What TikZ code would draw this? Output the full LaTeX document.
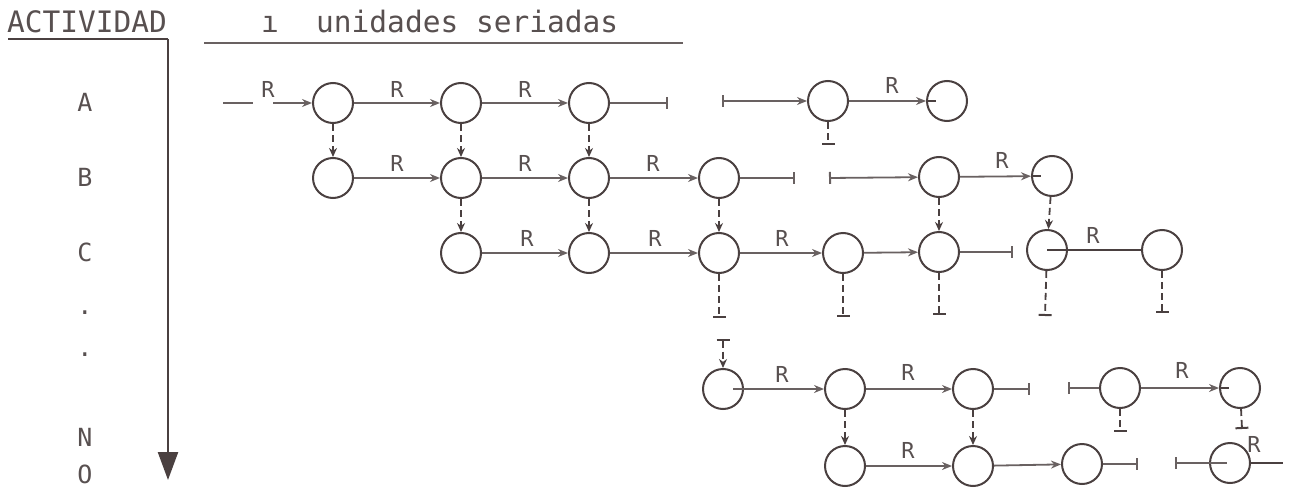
\documentclass[tikz,border=0pt]{standalone}
\usepackage{fontspec}
\setmonofont{DejaVu Sans Mono}
\usetikzlibrary{arrows.meta}
\definecolor{ink}{RGB}{74,64,64}
\definecolor{lnc}{RGB}{105,97,97}
\definecolor{txt}{RGB}{88,80,80}
\begin{document}
\begin{tikzpicture}[x=1pt,y=-1pt,
  st/.style={circle,draw=ink,line width=2pt,minimum size=40pt,inner sep=0pt},
  lnk/.style={draw=lnc,line width=1.8pt},
  arr/.style={lnk,-{Stealth[length=10pt,width=8pt]}},
  brk/.style={lnk,-{Bar[width=12pt,line width=2pt]}},
  brks/.style={lnk,{Bar[width=12pt,line width=2pt]}-},
  brka/.style={lnk,{Bar[width=12pt,line width=2pt]}-{Stealth[length=10pt,width=8pt]}},
  dsh/.style={draw=ink,line width=1.8pt,dash pattern=on 7pt off 4pt},
  darr/.style={dsh,-{Stealth[length=9pt,width=8pt]}},
  dend/.style={dsh,-{Bar[width=13pt,line width=2pt]}},
  dstart/.style={dsh,{Bar[width=13pt,line width=2pt]}-{Stealth[length=9pt,width=8pt]}},
  rl/.style={font=\ttfamily\fontsize{22}{22}\selectfont,text=txt,inner sep=0pt},
  lab/.style={font=\ttfamily\fontsize{25}{25}\selectfont,text=txt,inner sep=0pt},
  hdr/.style={font=\ttfamily\fontsize{29.5}{29.5}\selectfont,text=txt,inner sep=0pt},
  inl/.style={draw=ink,line width=1.8pt},
]
\useasboundingbox (0,0) rectangle (1289,492);

% ---- header ----
\node[hdr,anchor=base] (act) at (87,33) {ACTIVIDAD};
\node[hdr,anchor=base] (hi) at (270,33) {ı};
\node[hdr,anchor=base west] (hdrt) at (316,33) {unidades seriadas};
\coordinate (u1) at (8,39);
\coordinate (u2) at (168,39);
\coordinate (u3) at (204,43);
\coordinate (u4) at (683,43);
\draw[ink,line width=1.8pt] (u1) -- (u2);
\draw[lnc,line width=1.8pt] (u3) -- (u4);

% ---- axis ----
\coordinate (axT) at (168,39);
\coordinate (axB) at (168,480);
\draw[ink,line width=2.4pt,-{Triangle[length=28pt,width=20pt]}] (axT) -- (axB);

% ---- activity labels ----
\node[lab] (lA) at (85,102) {A};
\node[lab] (lB) at (85,177) {B};
\node[lab] (lC) at (85,252) {C};
\node[lab,anchor=base] (ld1) at (85,314) {.};
\node[lab,anchor=base] (ld2) at (85,356) {.};
\node[lab] (lN) at (85,437) {N};
\node[lab] (lO) at (85,474) {O};

% ---- states ----
\node[st] (A1) at (333,103) {};
\node[st] (A2) at (461,103) {};
\node[st] (A3) at (589,103) {};
\node[st] (A4) at (828,101) {};
\node[st] (A5) at (947,101) {};

\node[st] (B1) at (333,178) {};
\node[st] (B2) at (461,178) {};
\node[st] (B3) at (589,178) {};
\node[st] (B4) at (719,178) {};
\node[st] (B5) at (939,177) {};
\node[st] (B6) at (1052,176) {};

\node[st] (C1) at (461,253) {};
\node[st] (C2) at (589,253) {};
\node[st] (C3) at (719,253) {};
\node[st] (C4) at (843,253) {};
\node[st] (C5) at (939,252) {};
\node[st] (C6) at (1047,250) {};
\node[st] (C7) at (1162,250) {};

\node[st] (D1) at (723,389) {};
\node[st] (D2) at (845,389) {};
\node[st] (D3) at (973,389) {};
\node[st] (D4) at (1120,388) {};
\node[st] (D5) at (1240,388) {};

\node[st] (E1) at (845,466) {};
\node[st] (E2) at (973,466) {};
\node[st] (E3) at (1082,464) {};
\node[st] (E4) at (1230,463) {};

% ---- row A ----
\coordinate (a0) at (223,103);
\coordinate (a0b) at (253,103);
\coordinate (a1) at (273,103);
\draw[lnk] (a0) -- (a0b);
\draw[arr] (a1) -- (A1);
\draw[arr] (A1) -- (A2);
\draw[arr] (A2) -- (A3);
\coordinate (ab1) at (668,103);
\coordinate (ab2) at (722,101);
\draw[brk] (A3) -- (ab1);
\draw[brka] (ab2) -- (A4);
\draw[arr] (A4) -- (A5);
\draw[inl] (A5.west) -- ([xshift=10pt]A5.west);
\node[rl] (rA0) at (268,89) {R};
\node[rl] (rA1) at (397,89) {R};
\node[rl] (rA2) at (525,89) {R};
\node[rl] (rA3) at (892,85) {R};

% ---- row B ----
\draw[arr] (B1) -- (B2);
\draw[arr] (B2) -- (B3);
\draw[arr] (B3) -- (B4);
\coordinate (bb1) at (795,178);
\coordinate (bb2) at (829,178);
\draw[brk] (B4) -- (bb1);
\draw[brka] (bb2) -- (B5);
\draw[arr] (B5) -- (B6);
\draw[inl] (B6.west) -- ([xshift=10pt]B6.west);
\node[rl] (rB1) at (397,163) {R};
\node[rl] (rB2) at (525,163) {R};
\node[rl] (rB3) at (653,163) {R};
\node[rl] (rB4) at (1002,160) {R};

% ---- row C ----
\draw[arr] (C1) -- (C2);
\draw[arr] (C2) -- (C3);
\draw[arr] (C3) -- (C4);
\draw[arr] (C4) -- (C5);
\coordinate (cb1) at (1013,252);
\draw[brk] (C5) -- (cb1);
\draw[inl] (C6.center) -- (C7);
\node[rl] (rC1) at (527,238) {R};
\node[rl] (rC2) at (655,238) {R};
\node[rl] (rC3) at (782,238) {R};
\node[rl] (rC4) at (1093,235) {R};

% ---- row D ----
\draw[arr,shorten <=10pt] (D1.center) -- (D2);
\draw[arr] (D2) -- (D3);
\coordinate (db1) at (1030,389);
\coordinate (db2) at (1068,388);
\draw[brk] (D3) -- (db1);
\draw[brks] (db2) -- (D4);
\draw[arr] (D4) -- (D5);
\draw[inl] (D5.west) -- ([xshift=10pt]D5.west);
\node[rl] (rD1) at (782,374) {R};
\node[rl] (rD2) at (908,372) {R};
\node[rl] (rD3) at (1182,370) {R};

% ---- row E ----
\draw[arr] (E1) -- (E2);
\draw[arr] (E2) -- (E3);
\coordinate (eb1) at (1138,464);
\coordinate (eb2) at (1175,463);
\coordinate (eout) at (1283,463);
\draw[brk] (E3) -- (eb1);
\draw[brks] (eb2) -- ([xshift=-3pt]E4.center);
\draw[inl] (E4.east) -- (eout);
\node[rl] (rE1) at (908,450) {R};
\node[rl] (rE2) at (1254,444) {R};

% ---- vertical dashed links ----
\draw[darr] (A1) -- (B1);
\draw[darr] (A2) -- (B2);
\draw[darr] (A3) -- (B3);
\draw[darr] (B2) -- (C1);
\draw[darr] (B3) -- (C2);
\draw[darr] (B4) -- (C3);
\draw[darr] (B5) -- (C5);
\draw[darr] (B6) -- (C6);
\draw[darr] (D2) -- (E1);
\draw[darr] (D3) -- (E2);

\coordinate (ta4) at (828,145);
\draw[dend] (A4) -- (ta4);
\coordinate (tc3) at (719,318);
\coordinate (tc4) at (843,317);
\coordinate (tc5) at (939,315);
\coordinate (tc6) at (1045,316);
\coordinate (tc7) at (1162,313);
\draw[dend] (C3) -- (tc3);
\draw[dend] (C4) -- (tc4);
\draw[dend] (C5) -- (tc5);
\draw[dend] (C6) -- (tc6);
\draw[dend] (C7) -- (tc7);
\coordinate (td1) at (723,339);
\draw[dstart] (td1) -- (D1);
\coordinate (td4) at (1120,432);
\coordinate (td5) at (1242,429);
\draw[dend] (D4) -- (td4);
\draw[dend] (D5) -- (td5);
\end{tikzpicture}
\end{document}
